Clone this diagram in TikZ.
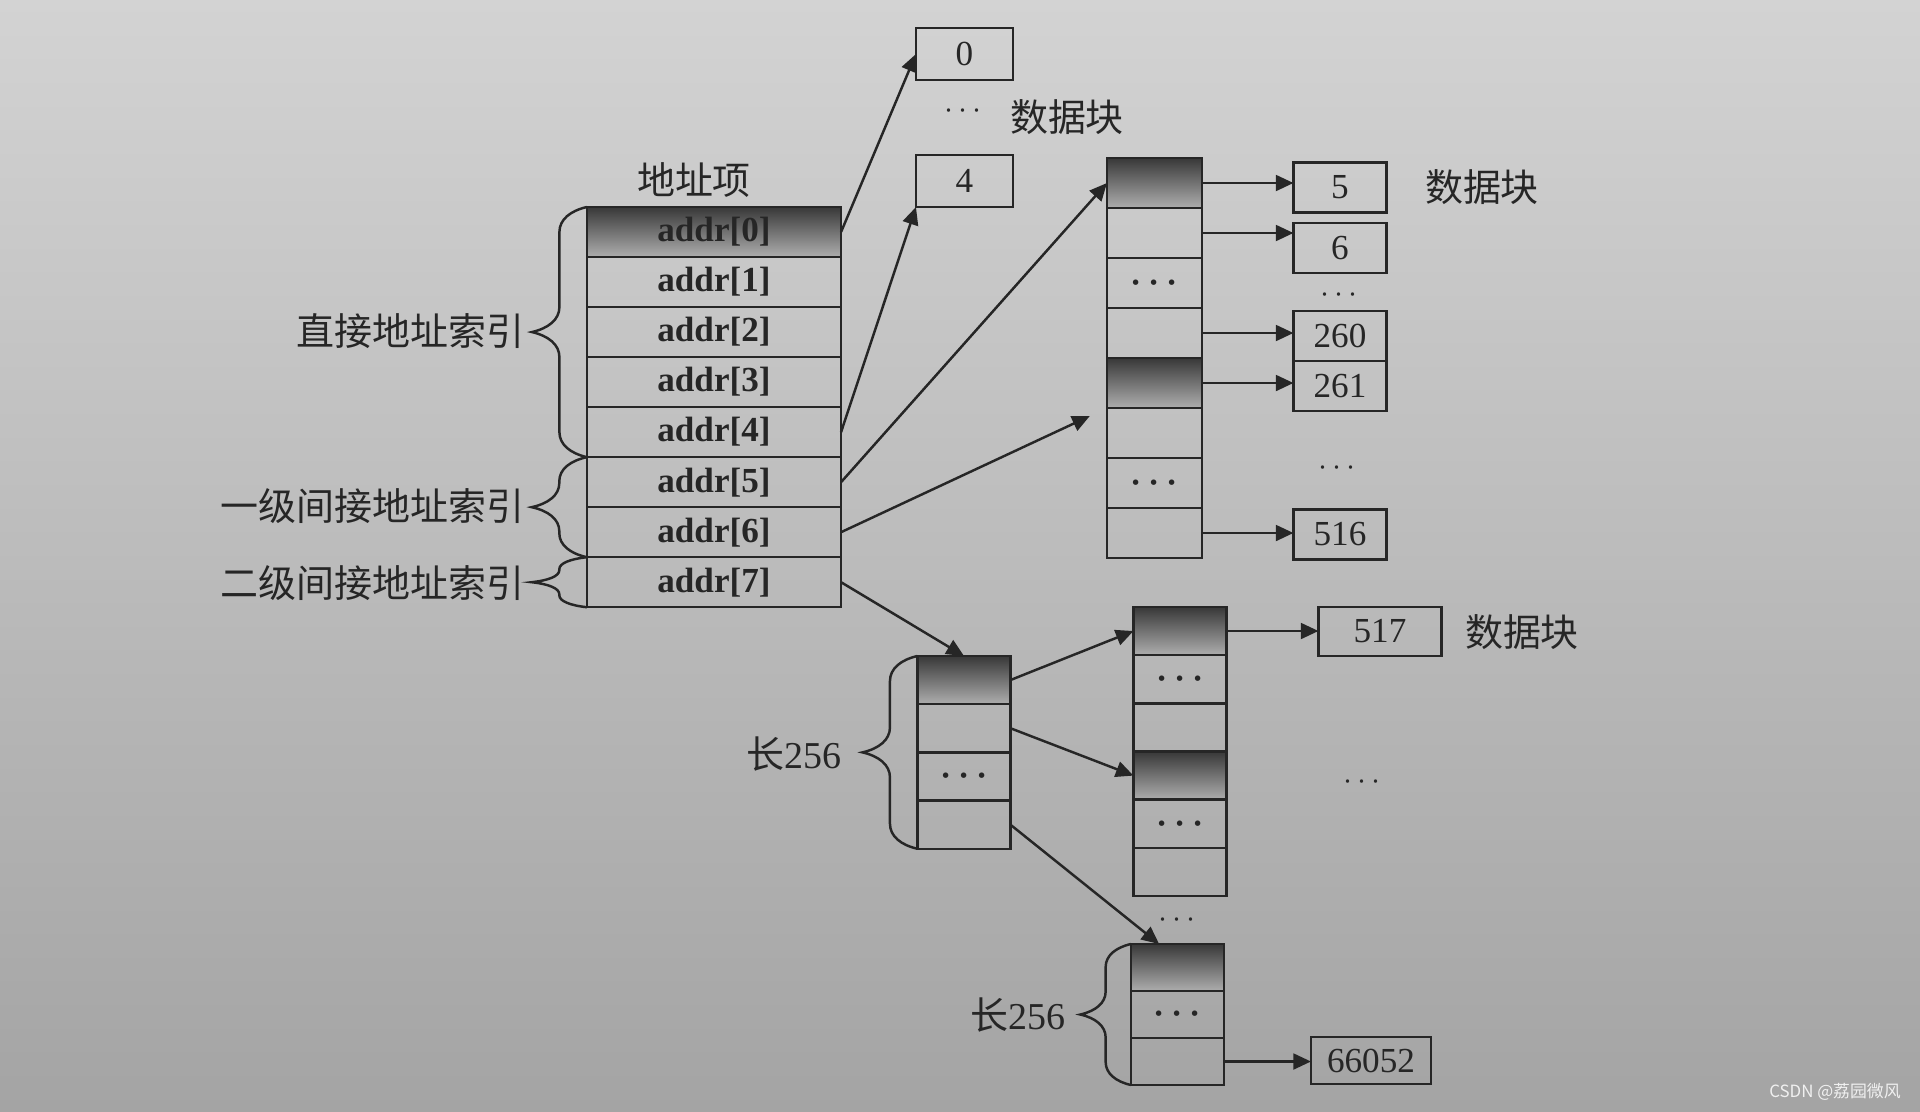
\documentclass[tikz,border=0pt]{standalone}
\usepackage{fontspec}
\setmainfont{Liberation Serif}
\newfontfamily\cjk{Noto Sans CJK SC}
\usetikzlibrary{arrows.meta, calc, positioning, decorations.pathreplacing}
\definecolor{papier}{HTML}{D3D3D3}
\definecolor{papierdunkel}{HTML}{A4A4A4}
\definecolor{tinte}{HTML}{262626}
\newcommand{\cdts}{{\boldmath$\cdots$}}

\begin{document}
\begin{tikzpicture}[x=0.01cm, y=-0.01cm,
    cell/.style={draw=tinte, line width=0.7pt, minimum width=2.54cm,
                 minimum height=0.5cm, inner sep=0pt, outer sep=0pt,
                 font=\bfseries, text=tinte},
    icell/.style={draw=tinte, line width=0.7pt, minimum width=0.95cm,
                 minimum height=0.5cm, inner sep=0pt, outer sep=0pt, text=tinte},
    scell/.style={icell, minimum width=0.93cm, minimum height=0.48cm},
    dark/.style={top color=black!78, bottom color=black!32},
    plain/.style={},
    dbox/.style={draw=tinte, line width=0.7pt, minimum width=0.93cm,
                 minimum height=0.5cm, inner sep=0pt, outer sep=0pt, text=tinte},
    arr/.style={-{Triangle[length=5pt, width=4.5pt]}, line width=0.7pt, draw=tinte},
    lbl/.style={font=\cjk\fontsize{10.8pt}{13pt}\selectfont, text=tinte},
    dts/.style={font=\small, text=tinte},
    brc/.style 2 args={draw=tinte, line width=0.7pt, decorate,
                 decoration={brace, amplitude=#1, transform={yscale=#2}}}
  ]
  % -- Papier --
  \fill[top color=papier, bottom color=papierdunkel] (0,0) rectangle (1920,1111);
  \useasboundingbox (0,0) rectangle (1920,1111);

  % -- Adresstabelle --
  \node[cell, dark] (a0) at (714,232) {addr[0]};
  \foreach \i [count=\j from 0] in {1,...,7}
    \node[cell, below=0pt of a\j] (a\i) {addr[\i]};
  \node[lbl] (xiang) at (694,180) {地址项};

  % -- Klammern links --
  \draw[brc={0.25cm}{2.2}] (a4.south west) -- (a0.north west);
  \draw[brc={0.24cm}{2.3}] (a6.south west) -- (a5.north west);
  \draw[brc={0.12cm}{4.6}] (a7.south west) -- (a7.north west);
  \node[lbl, anchor=east] (zhijie) at (537,331) {直接地址索引};
  \node[lbl, anchor=east] (yiji)   at (537,506) {一级间接地址索引};
  \node[lbl, anchor=east] (erji)   at (537,583) {二级间接地址索引};

  % -- direkte Datenbloecke --
  \node[dbox, minimum width=0.97cm, minimum height=0.52cm] (d0) at (964.5,54)  {0};
  \node[dbox, minimum width=0.97cm, minimum height=0.52cm] (d4) at (964.5,181) {4};
  \node[dts] (dt0) at (963,111) {$\cdots$};
  \node[lbl] (blk0) at (1067,117) {数据块};

  % -- einfach indirekter Indexblock --
  \foreach \i/\s/\t in {0/dark/{}, 1/plain/{}, 2/plain/\cdts, 3/plain/{},
                        4/dark/{}, 5/plain/{}, 6/plain/\cdts, 7/plain/{}}
    \node[icell, \s] (m\i) at (1154.5, 183+50*\i) {\t};
  \foreach \n/\y in {5/187.5, 6/248, 260/336, 261/386, 516/534.5}
    \node[dbox] (d\n) at (1340,\y) {\n};
  \node[dts] (dt1) at (1339,295) {$\cdots$};
  \node[dts] (dt2) at (1337,468) {$\cdots$};
  \node[lbl] (blk1) at (1482,187) {数据块};

  % -- zweifach indirekt --
  \foreach \i/\s/\t in {0/dark/{}, 1/plain/{}, 2/plain/\cdts, 3/plain/{}}
    \node[scell, \s] (l\i) at (964, 680+48.25*\i) {\t};
  \foreach \i/\s/\t in {0/dark/{}, 1/plain/\cdts, 2/plain/{},
                        3/dark/{}, 4/plain/\cdts, 5/plain/{}}
    \node[scell, \s] (r\i) at (1180, 631+48.2*\i) {\t};
  \foreach \i/\s/\t in {0/dark/{}, 1/plain/\cdts, 2/plain/{}}
    \node[scell, minimum height=0.47cm, \s] (b\i) at (1177.5, 967.5+47*\i) {\t};
  \node[dbox, minimum width=1.23cm, minimum height=0.49cm] (d517) at (1380,631.5) {517};
  \node[dbox, minimum width=1.2cm, minimum height=0.47cm] (d66052) at (1371,1060.5) {66052};
  \node[lbl] (blk2) at (1522,632) {数据块};
  \node[dts] (dt3) at (1362,782) {$\cdots$};
  \node[dts] (dt4) at (1177,920) {$\cdots$};

  \draw[brc={0.25cm}{2.2}] (l3.south west) -- (l0.north west);
  \draw[brc={0.23cm}{2.2}] (b2.south west) -- (b0.north west);
  \node[lbl, anchor=east] (len1) at (854,754)  {长\rmfamily 256};
  \node[lbl, anchor=east] (len2) at (1078,1015) {长\rmfamily 256};

  % -- Zeiger --
  \draw[arr] (a0.east) -- (d0.west);
  \draw[arr] (a4.east) -- (d4.south west);
  \draw[arr] (a5.east) -- (m0.west);
  \draw[arr, shorten >=5.4pt] (a6.east) -- (m4.south west);
  \draw[arr] (a7.east) -- (l0.north);
  \draw[arr] (l0.east) -- (r0.west);
  \draw[arr] (l1.east) -- (r3.west);
  \draw[arr] (l3.east) -- (b0.128);
  \foreach \a/\b in {m0/d5, m1/d6, m3/d260, m4/d261, m7/d516, r0/d517, b2/d66052}
    \draw[arr] (\a.east) -- (\a.east -| \b.west);

  \node[font=\cjk\fontsize{4.8pt}{6pt}\selectfont, text=white!88!gray] (wm)
    at (1835,1092) {CSDN @荔园微风};
\end{tikzpicture}
\end{document}
